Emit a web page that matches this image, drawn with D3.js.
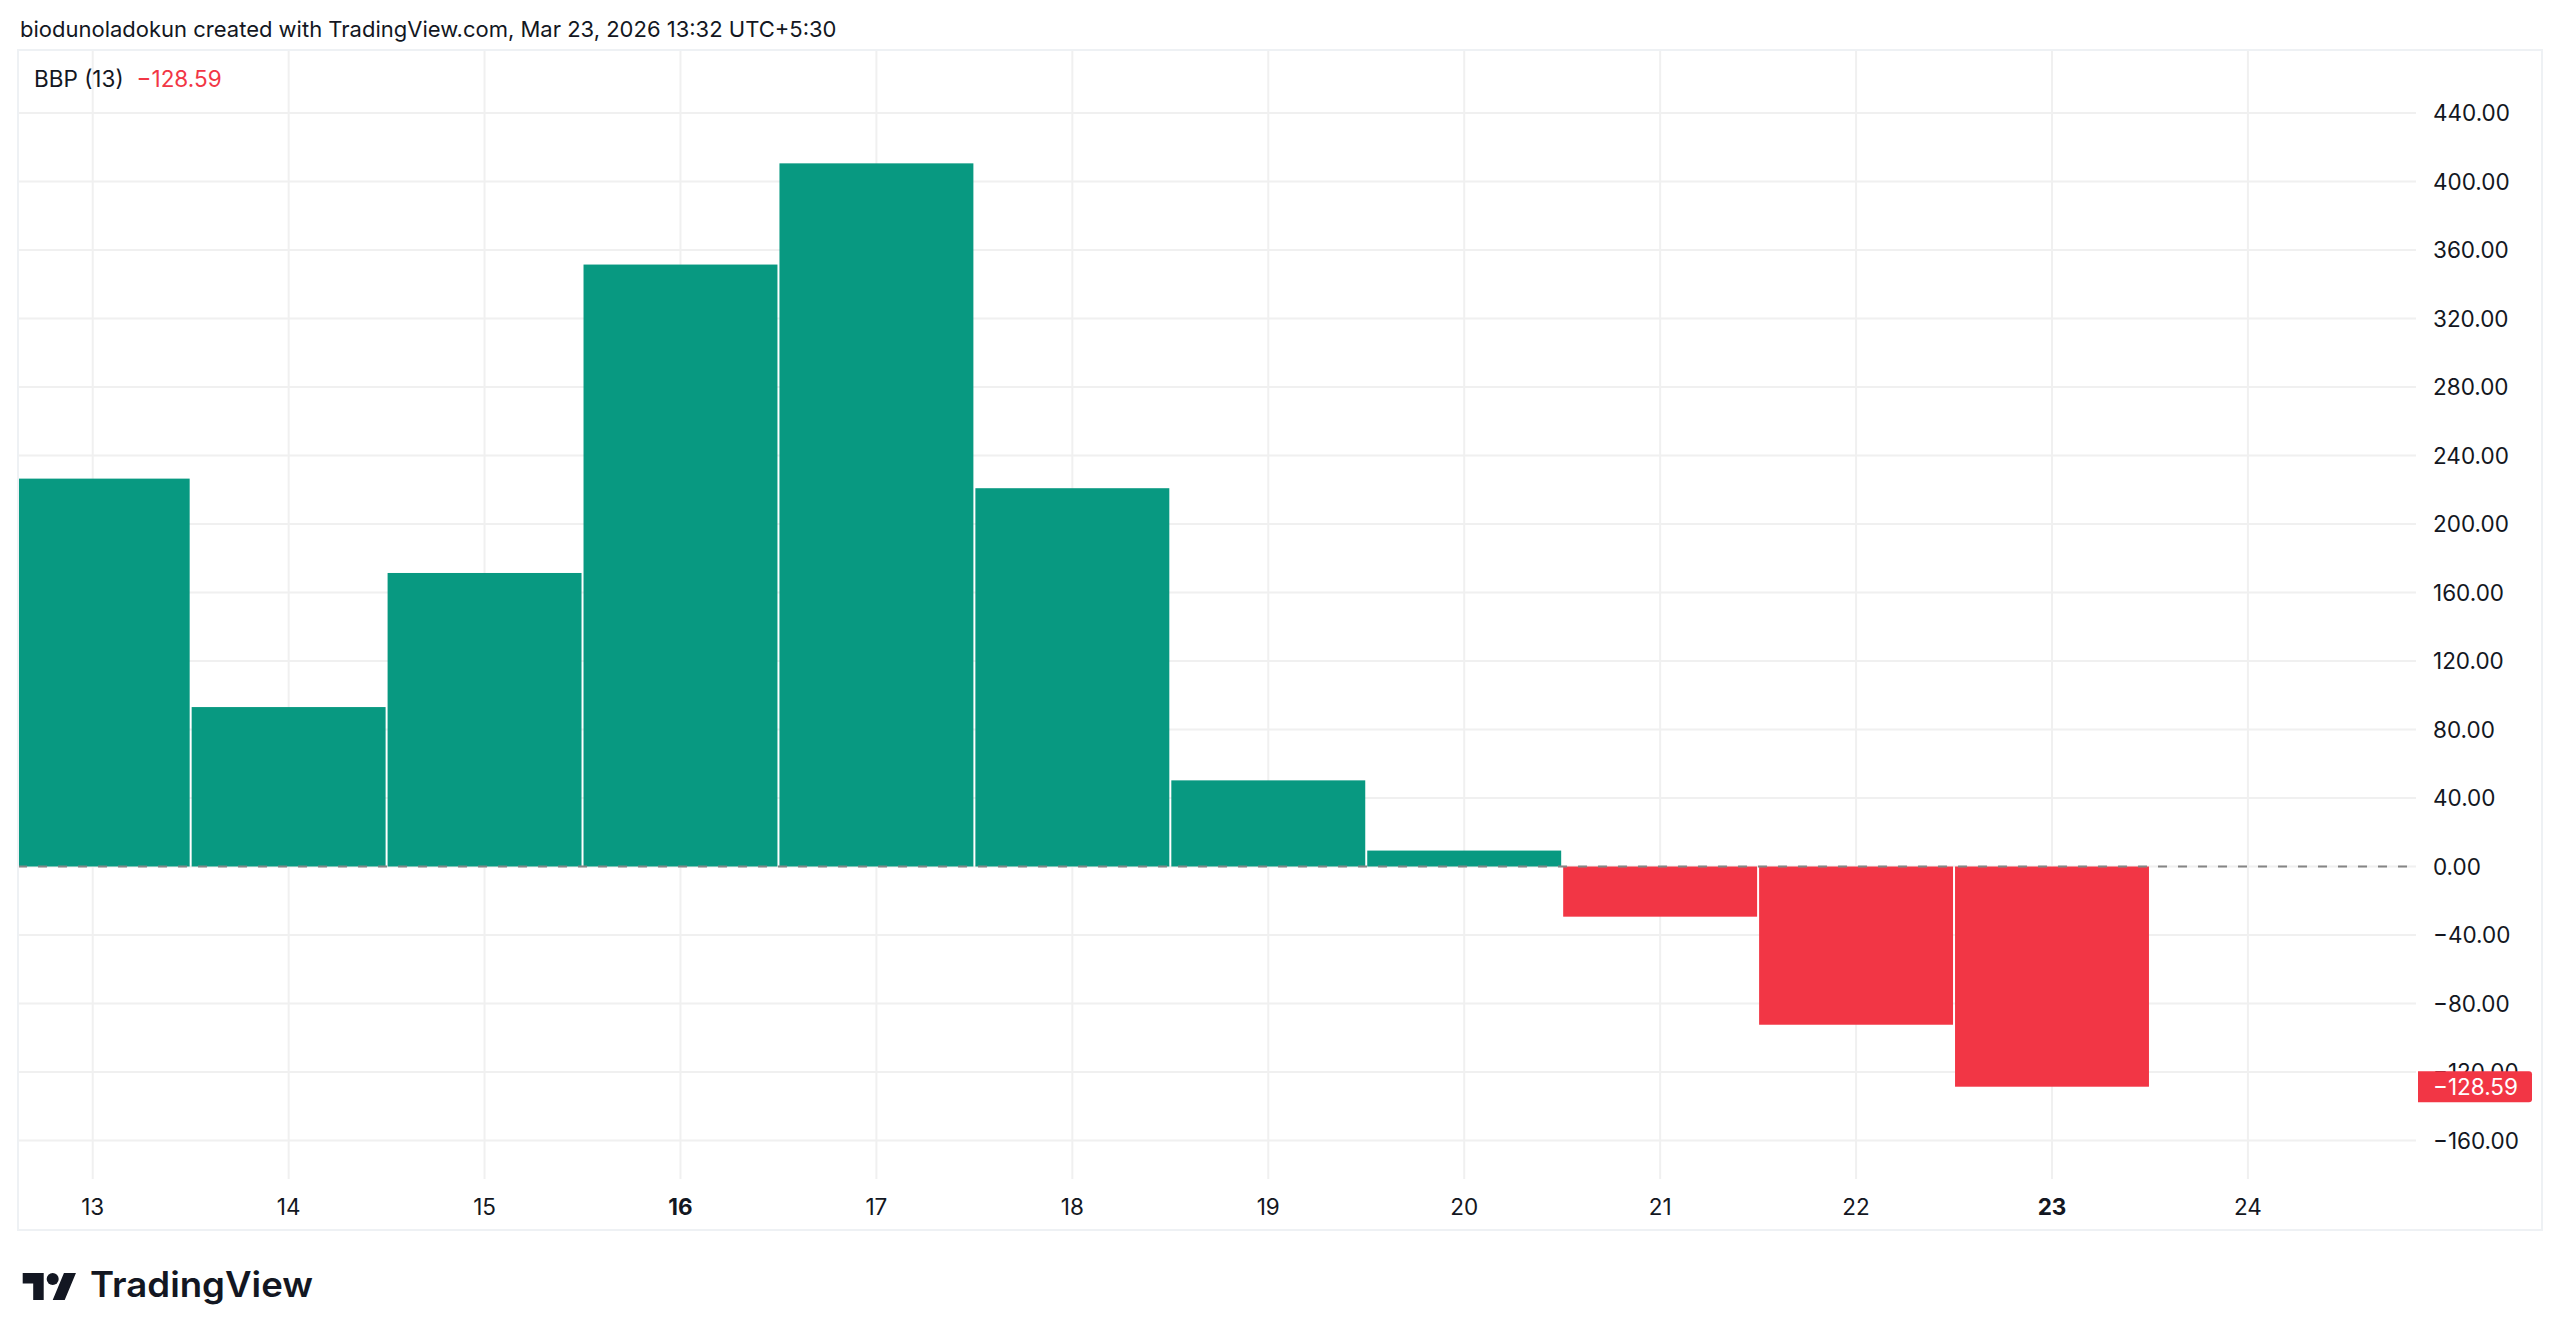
<!DOCTYPE html>
<html>
<head>
<meta charset="utf-8">
<script src="https://cdn.jsdelivr.net/npm/d3@7"></script>
<style>
  html, body { margin: 0; padding: 0; background: #ffffff; }
  svg { display: block; }
  text { font-family: Inter, "Noto Sans", Roboto, sans-serif; }
</style>
</head>
<body>
<svg id="chart" width="2560" height="1342"></svg>
<script>
// ---- data ----
const days = [13, 14, 15, 16, 17, 18, 19, 20, 21, 22, 23];
const bbpValues = [226.5, 93.1, 171.4, 351.5, 410.6, 220.9, 50.3, 9.3, -29.3, -92.4, -128.59];
const xTickLabels = ["13", "14", "15", "16", "17", "18", "19", "20", "21", "22", "23", "24"];
const xTickValues = [13, 14, 15, 16, 17, 18, 19, 20, 21, 22, 23, 24];
const boldTicks = ["16", "23"];
const yTickValues = [-160, -120, -80, -40, 0, 40, 80, 120, 160, 200, 240, 280, 320, 360, 400, 440];
const headerText = "biodunoladokun created with TradingView.com, Mar 23, 2026 13:32 UTC+5:30";
const indicatorName = "BBP (13)";
const lastValueLabel = "\u2212128.59";

// ---- layout ----
const frame = { left: 18, top: 50, right: 2542, bottom: 1230 };
const pane = { left: 18, top: 50, right: 2416, bottom: 1179 };
const UP = "#089981", DOWN = "#F23645", GRID = "#f0f0f0", TEXT = "#131722";

const svg = d3.select("#chart");

const x = d3.scaleLinear().domain([13, 23]).range([92.7, 2052]);
const y = d3.scaleLinear().domain([0, 440]).range([866.5, 113]);

const fmt = v => (v < 0 ? "\u2212" : "") + Math.abs(v).toFixed(2);

// header
svg.append("text")
  .attr("x", 20).attr("y", 37)
  .attr("font-size", 22).attr("fill", TEXT)
  .text(headerText);

// clip for pane
svg.append("defs").append("clipPath").attr("id", "paneClip")
  .append("rect")
  .attr("x", pane.left).attr("y", pane.top)
  .attr("width", pane.right - pane.left).attr("height", pane.bottom - pane.top);

const g = svg.append("g").attr("clip-path", "url(#paneClip)");

// vertical grid
g.append("g").selectAll("line").data(xTickValues).join("line")
  .attr("x1", d => x(d)).attr("x2", d => x(d))
  .attr("y1", pane.top).attr("y2", pane.bottom)
  .attr("stroke", GRID).attr("stroke-width", 2);

// horizontal grid
g.append("g").selectAll("line").data(yTickValues).join("line")
  .attr("x1", pane.left).attr("x2", pane.right)
  .attr("y1", d => y(d)).attr("y2", d => y(d))
  .attr("stroke", GRID).attr("stroke-width", 2);

// bars
g.append("g").selectAll("rect").data(days).join("rect")
  .attr("x", (d) => x(d - 0.5) + 1)
  .attr("width", (d) => x(d + 0.5) - x(d - 0.5) - 2)
  .attr("y", (d, i) => Math.min(y(bbpValues[i]), y(0)))
  .attr("height", (d, i) => Math.abs(y(bbpValues[i]) - y(0)))
  .attr("fill", (d, i) => bbpValues[i] >= 0 ? UP : DOWN);

// zero dashed line
g.append("line")
  .attr("x1", pane.left).attr("x2", pane.right)
  .attr("y1", y(0)).attr("y2", y(0))
  .attr("stroke", "#858585").attr("stroke-width", 2)
  .attr("stroke-dasharray", "9,11");

// legend
const legend = svg.append("text")
  .attr("x", 34).attr("y", 87)
  .attr("font-size", 22.5);
legend.append("tspan").attr("fill", TEXT).text(indicatorName);
legend.append("tspan").attr("fill", DOWN).attr("dx", 13).text(lastValueLabel);

// y axis labels
svg.append("g").selectAll("text").data(yTickValues).join("text")
  .attr("x", 2433).attr("y", d => y(d))
  .attr("dy", "0.36em")
  .attr("font-size", 22.5).attr("fill", TEXT)
  .text(d => fmt(d));

// last value label
const lastV = bbpValues[bbpValues.length - 1];
const ly = y(lastV);
svg.append("path")
  .attr("d", `M2418,${ly - 15.5} H2529 Q2532,${ly - 15.5} 2532,${ly - 12.5} V${ly + 12.5} Q2532,${ly + 15.5} 2529,${ly + 15.5} H2418 Z`)
  .attr("fill", DOWN);
svg.append("text")
  .attr("x", 2433).attr("y", ly).attr("dy", "0.36em")
  .attr("font-size", 22.5).attr("fill", "#ffffff")
  .text(lastValueLabel);

// x axis labels
svg.append("g").selectAll("text").data(xTickValues).join("text")
  .attr("x", d => x(d)).attr("y", 1207).attr("dy", "0.36em")
  .attr("text-anchor", "middle")
  .attr("font-size", 22.5).attr("fill", TEXT)
  .attr("font-weight", (d, i) => boldTicks.includes(xTickLabels[i]) ? 700 : 400)
  .text((d, i) => xTickLabels[i]);

// frame
svg.append("rect")
  .attr("x", frame.left).attr("y", frame.top)
  .attr("width", frame.right - frame.left).attr("height", frame.bottom - frame.top)
  .attr("fill", "none").attr("stroke", "#eef1f4").attr("stroke-width", 2);

// TradingView logo
const logo = svg.append("g").attr("transform", "translate(22.7,1267) scale(1.5)").attr("fill", "#131722");
logo.append("path").attr("d", "M14 22H7V11H0V4h14v18zM28 22h-8l7.5-18h8L28 22z");
logo.append("circle").attr("cx", 20).attr("cy", 8).attr("r", 4);
svg.append("text")
  .attr("x", 90).attr("y", 1297)
  .attr("font-size", 35).attr("font-weight", 600).attr("fill", "#131722")
  .attr("textLength", 223).attr("lengthAdjust", "spacingAndGlyphs")
  .text("TradingView");
</script>
</body>
</html>
